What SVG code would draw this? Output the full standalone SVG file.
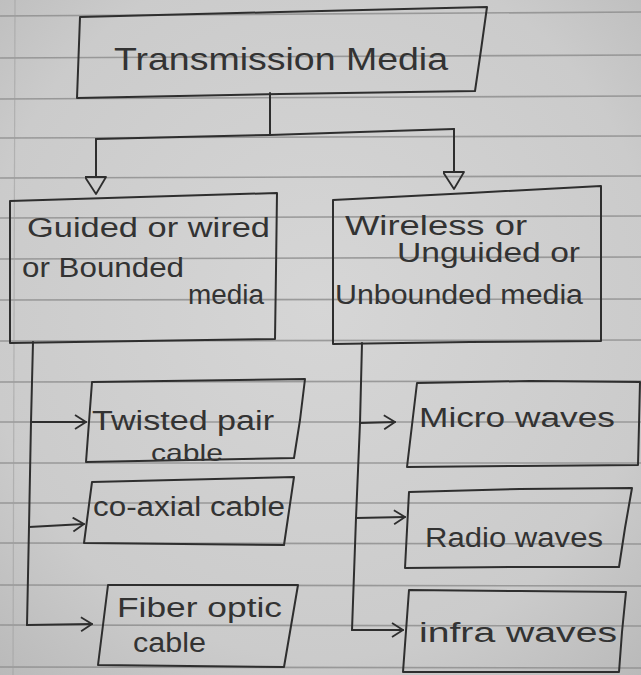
<svg xmlns="http://www.w3.org/2000/svg" width="641" height="675" viewBox="0 0 641 675">
  <defs>
    <radialGradient id="paper" cx="50%" cy="45%" r="75%">
      <stop offset="0" stop-color="#d6d6d6"/>
      <stop offset="0.7" stop-color="#cbcbcb"/>
      <stop offset="1" stop-color="#b9b9b9"/>
    </radialGradient>
    <!-- open chevron used on the branch arrows -->
    <marker id="chev" markerWidth="14" markerHeight="16" refX="12" refY="8" orient="auto" markerUnits="userSpaceOnUse">
      <path d="M1,1 L12,8 L1,15" fill="none" stroke="#2e2e2e" stroke-width="1.8" stroke-linejoin="round"/>
    </marker>
    <!-- hollow triangle head on the two top-level arrows -->
    <marker id="tri" markerWidth="26" markerHeight="22" refX="2" refY="11" orient="auto" markerUnits="userSpaceOnUse">
      <path d="M2,1 L19,11 L2,22 Z" fill="none" stroke="#2e2e2e" stroke-width="1.8" stroke-linejoin="round"/>
    </marker>
  </defs>
  <style>
    .ink { fill: none; stroke: #2e2e2e; stroke-width: 2; stroke-linejoin: round; stroke-linecap: round; }
    .rule { stroke: #8c8c8c; stroke-width: 1.6; opacity: 0.8; }
    .hand { font-family: "Liberation Sans", "DejaVu Sans", sans-serif; fill: #333333; font-size: 27px; }
    .title { font-size: 32px; }
    .small { font-size: 24px; }
  </style>

  <!-- ruled notebook page -->
  <rect x="0" y="0" width="641" height="675" fill="url(#paper)"/>
  <g id="ruling">
    <line class="rule" x1="0" y1="16" x2="641" y2="12"/>
    <line class="rule" x1="0" y1="58" x2="641" y2="55"/>
    <line class="rule" x1="0" y1="99" x2="641" y2="96"/>
    <line class="rule" x1="0" y1="138" x2="641" y2="136"/>
    <line class="rule" x1="0" y1="178" x2="641" y2="176"/>
    <line class="rule" x1="0" y1="218" x2="641" y2="216"/>
    <line class="rule" x1="0" y1="259" x2="641" y2="257"/>
    <line class="rule" x1="0" y1="300" x2="641" y2="299"/>
    <line class="rule" x1="0" y1="341" x2="641" y2="340"/>
    <line class="rule" x1="0" y1="382" x2="641" y2="381"/>
    <line class="rule" x1="0" y1="422" x2="641" y2="422"/>
    <line class="rule" x1="0" y1="463" x2="641" y2="463"/>
    <line class="rule" x1="0" y1="503" x2="641" y2="503"/>
    <line class="rule" x1="0" y1="543" x2="641" y2="544"/>
    <line class="rule" x1="0" y1="585" x2="641" y2="586"/>
    <line class="rule" x1="0" y1="625" x2="641" y2="626"/>
    <line class="rule" x1="0" y1="667" x2="641" y2="668"/>
    <line x1="15" y1="0" x2="13" y2="675" stroke="#a0a0a0" stroke-width="1.2" opacity="0.6"/>
  </g>

  <!-- connectors -->
  <g id="connectors">
    <path class="ink" d="M270,93 L270,135"/>
    <path class="ink" d="M96,139 L180,137 L270,135 L360,132 L454,129"/>
    <path class="ink" d="M96,139 L96,177" marker-end="url(#tri)"/>
    <path class="ink" d="M454,129 L454,172" marker-end="url(#tri)"/>

    <!-- guided media trunk and branches -->
    <path class="ink" d="M33,342 L31,422 L29,527 L27,625"/>
    <path class="ink" d="M31,422 L86,422" marker-end="url(#chev)"/>
    <path class="ink" d="M29,527 L84,524" marker-end="url(#chev)"/>
    <path class="ink" d="M27,625 L92,624" marker-end="url(#chev)"/>

    <!-- unguided media trunk and branches -->
    <path class="ink" d="M362,343 L360,423 L356,518 L352,630"/>
    <path class="ink" d="M360,423 L395,422" marker-end="url(#chev)"/>
    <path class="ink" d="M356,518 L405,517" marker-end="url(#chev)"/>
    <path class="ink" d="M352,630 L403,630" marker-end="url(#chev)"/>
  </g>

  <g id="transmission-media">
    <path class="ink" d="M80,17 L280,12 L487,7 L481,50 L475,91 L280,94 L77,98 Z"/>
    <text class="hand title" x="114" y="70" textLength="334" lengthAdjust="spacingAndGlyphs">Transmission Media</text>
  </g>

  <g id="guided-media">
    <path class="ink" d="M10,201 L140,197 L277,193 L276,270 L275,339 L140,341 L10,343 Z"/>
    <text class="hand" x="27" y="237" textLength="243" lengthAdjust="spacingAndGlyphs">Guided or wired</text>
    <text class="hand" x="22" y="277" textLength="162" lengthAdjust="spacingAndGlyphs">or Bounded</text>
    <text class="hand" x="188" y="304" textLength="76" lengthAdjust="spacingAndGlyphs">media</text>
  </g>

  <g id="unguided-media">
    <path class="ink" d="M333,200 L470,193 L601,186 L601,265 L601,341 L470,342 L333,344 Z"/>
    <text class="hand" x="345" y="235" textLength="182" lengthAdjust="spacingAndGlyphs">Wireless or</text>
    <text class="hand" x="397" y="262" textLength="183" lengthAdjust="spacingAndGlyphs">Unguided or</text>
    <text class="hand" x="335" y="304" textLength="248" lengthAdjust="spacingAndGlyphs">Unbounded media</text>
  </g>

  <g id="twisted-pair">
    <path class="ink" d="M92,382 L305,379 L300,420 L294,458 L86,462 Z"/>
    <text class="hand" x="92" y="430" textLength="182" lengthAdjust="spacingAndGlyphs">Twisted pair</text>
    <text class="hand small" x="151" y="461" textLength="72" lengthAdjust="spacingAndGlyphs">cable</text>
  </g>

  <g id="coaxial">
    <path class="ink" d="M92,482 L294,477 L289,511 L284,545 L84,543 Z"/>
    <text class="hand" x="93" y="516" textLength="192" lengthAdjust="spacingAndGlyphs">co-axial cable</text>
  </g>

  <g id="fiber-optic">
    <path class="ink" d="M108,585 L298,585 L291,626 L284,667 L98,665 Z"/>
    <text class="hand" x="117" y="617" textLength="165" lengthAdjust="spacingAndGlyphs">Fiber optic</text>
    <text class="hand" x="133" y="652" textLength="73" lengthAdjust="spacingAndGlyphs">cable</text>
  </g>

  <g id="micro-waves">
    <path class="ink" d="M417,383 L530,381 L640,382 L639,425 L638,465 L520,466 L407,467 Z"/>
    <text class="hand" x="419" y="427" textLength="196" lengthAdjust="spacingAndGlyphs">Micro waves</text>
  </g>

  <g id="radio-waves">
    <path class="ink" d="M409,492 L520,489 L632,488 L625,528 L619,567 L510,567 L405,568 Z"/>
    <text class="hand" x="425" y="547" textLength="178" lengthAdjust="spacingAndGlyphs">Radio waves</text>
  </g>

  <g id="infra-waves">
    <path class="ink" d="M409,590 L520,591 L626,592 L622,632 L619,672 L510,672 L403,672 Z"/>
    <text class="hand" x="419" y="642" textLength="198" lengthAdjust="spacingAndGlyphs">infra waves</text>
  </g>
</svg>
